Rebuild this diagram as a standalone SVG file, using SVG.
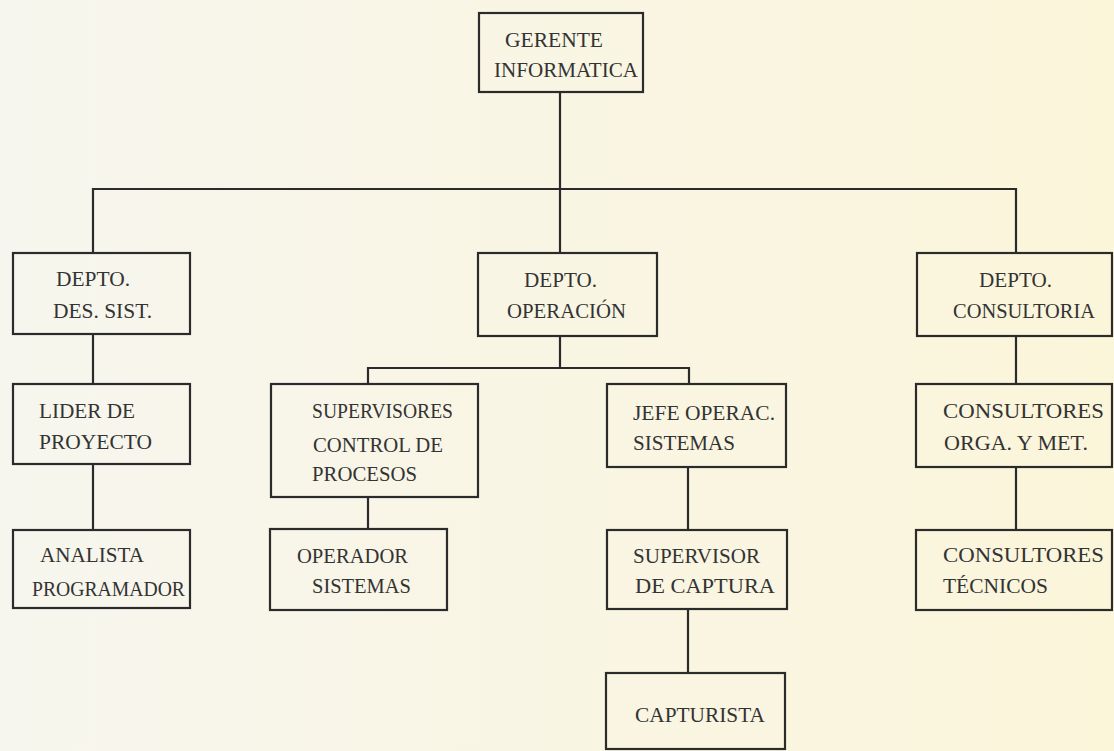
<svg xmlns="http://www.w3.org/2000/svg" width="1114" height="751" viewBox="0 0 1114 751">
<defs>
<linearGradient id="bg" x1="0" y1="0" x2="1" y2="0">
<stop offset="0" stop-color="#f7f6ee"/>
<stop offset="1" stop-color="#fbf5da"/>
</linearGradient>
<style>
.box{fill:none;stroke:#2b2b2b;stroke-width:2.2}
.ln{fill:none;stroke:#2b2b2b;stroke-width:2.2}
.t{font-family:'Liberation Serif','DejaVu Serif','Noto Serif',serif;font-size:21px;fill:#333}
</style>
</defs>
<rect width="1114" height="751" fill="url(#bg)"/>
<g id="connectors">
<path class="ln" d="M560 92V253"/>
<path class="ln" d="M93 253V189H1016V253"/>
<path class="ln" d="M93 334V384M93 464V530"/>
<path class="ln" d="M560 336V368M368 384V368H689V384"/>
<path class="ln" d="M368 497V529"/>
<path class="ln" d="M688 467V530M688 609V673"/>
<path class="ln" d="M1016 336V384M1016 467V530"/>
</g>
<g class="t" lengthAdjust="spacingAndGlyphs">
<g id="gerente"><rect class="box" x="479" y="13" width="164" height="79"/><text x="505" y="47" textLength="98" lengthAdjust="spacingAndGlyphs">GERENTE</text><text x="494" y="77" textLength="144" lengthAdjust="spacingAndGlyphs">INFORMATICA</text></g>
<g id="depto-des"><rect class="box" x="13" y="253" width="177" height="81"/><text x="56" y="286" textLength="74" lengthAdjust="spacingAndGlyphs">DEPTO.</text><text x="53" y="318" textLength="99" lengthAdjust="spacingAndGlyphs">DES. SIST.</text></g>
<g id="depto-op"><rect class="box" x="478" y="253" width="179" height="83"/><text x="524" y="287" textLength="73" lengthAdjust="spacingAndGlyphs">DEPTO.</text><text x="507" y="318" textLength="119" lengthAdjust="spacingAndGlyphs">OPERACIÓN</text></g>
<g id="depto-cons"><rect class="box" x="917" y="253" width="195" height="83"/><text x="979" y="287" textLength="73" lengthAdjust="spacingAndGlyphs">DEPTO.</text><text x="953" y="318" textLength="142" lengthAdjust="spacingAndGlyphs">CONSULTORIA</text></g>
<g id="lider"><rect class="box" x="13" y="384" width="177" height="80"/><text x="39" y="418" textLength="96" lengthAdjust="spacingAndGlyphs">LIDER DE</text><text x="39" y="449" textLength="113" lengthAdjust="spacingAndGlyphs">PROYECTO</text></g>
<g id="analista"><rect class="box" x="13" y="530" width="177" height="78"/><text x="40" y="562" textLength="104" lengthAdjust="spacingAndGlyphs">ANALISTA</text><text x="32" y="596" textLength="153" lengthAdjust="spacingAndGlyphs">PROGRAMADOR</text></g>
<g id="supervisores"><rect class="box" x="271" y="384" width="207" height="113"/><text x="312" y="418" textLength="141" lengthAdjust="spacingAndGlyphs">SUPERVISORES</text><text x="313" y="452" textLength="130" lengthAdjust="spacingAndGlyphs">CONTROL DE</text><text x="312" y="481" textLength="105" lengthAdjust="spacingAndGlyphs">PROCESOS</text></g>
<g id="operador"><rect class="box" x="270" y="529" width="177" height="81"/><text x="297" y="563" textLength="111" lengthAdjust="spacingAndGlyphs">OPERADOR</text><text x="312" y="593" textLength="99" lengthAdjust="spacingAndGlyphs">SISTEMAS</text></g>
<g id="jefe"><rect class="box" x="607" y="384" width="179" height="83"/><text x="633" y="420" textLength="142" lengthAdjust="spacingAndGlyphs">JEFE OPERAC.</text><text x="633" y="450" textLength="102" lengthAdjust="spacingAndGlyphs">SISTEMAS</text></g>
<g id="supervisor-captura"><rect class="box" x="607" y="530" width="180" height="79"/><text x="633" y="563" textLength="127" lengthAdjust="spacingAndGlyphs">SUPERVISOR</text><text x="635" y="593" textLength="140" lengthAdjust="spacingAndGlyphs">DE CAPTURA</text></g>
<g id="capturista"><rect class="box" x="606" y="673" width="179" height="76"/><text x="635" y="722" textLength="130" lengthAdjust="spacingAndGlyphs">CAPTURISTA</text></g>
<g id="consultores-orga"><rect class="box" x="916" y="384" width="196" height="83"/><text x="943" y="418" textLength="161" lengthAdjust="spacingAndGlyphs">CONSULTORES</text><text x="944" y="450" textLength="144" lengthAdjust="spacingAndGlyphs">ORGA. Y MET.</text></g>
<g id="consultores-tec"><rect class="box" x="916" y="530" width="196" height="80"/><text x="943" y="562" textLength="161" lengthAdjust="spacingAndGlyphs">CONSULTORES</text><text x="943" y="593" textLength="105" lengthAdjust="spacingAndGlyphs">TÉCNICOS</text></g>
</g>
</svg>
